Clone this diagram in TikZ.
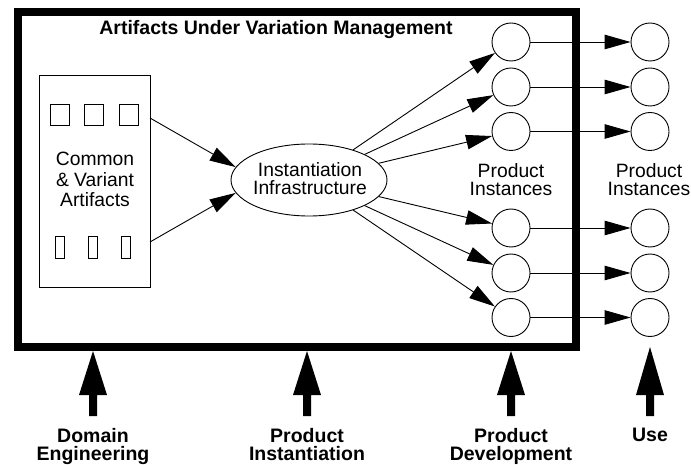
\documentclass[tikz,border=0pt]{standalone}
\usepackage{fontspec}
\setmainfont{Liberation Sans}
\usetikzlibrary{arrows.meta,shapes.geometric}
\begin{document}
\begin{tikzpicture}[x=1pt,y=-1pt,
  thin line/.style={line width=0.9pt},
  conn/.style={thin line,-{Triangle[length=26pt,width=14.5pt]}},
  inst/.style={circle,draw,thin line,minimum size=38pt,inner sep=0pt},
  body/.style={font=\fontsize{19.3}{18}\selectfont,align=center,inner sep=0pt,anchor=north},
  phase/.style={font=\fontsize{19.5}{18}\selectfont\bfseries,align=center,inner sep=0pt,anchor=north},
  art/.style={draw,thin line,inner sep=0pt},
  block/.style={fill=black}
]
\useasboundingbox (0,0) rectangle (691,465);
\fill[white] (0,0) rectangle (691,465);

% outer frame
\draw[line width=8pt] (18,12) rectangle (575.5,346.5);
\node[font=\fontsize{19.5}{20}\selectfont\bfseries,anchor=base,inner sep=0pt] (title) at (276,35) {Artifacts Under Variation Management};

% artifacts box
\node[art,minimum width=111pt,minimum height=212pt] (artbox) at (94.5,181) {};
\node[body,font=\fontsize{19.3}{20.5}\selectfont] (arttext) at (95,152) {Common\\\& Variant\\Artifacts};
\foreach \x [count=\i] in {59.5,93.5,128.5}{
  \node[art,minimum width=19pt,minimum height=21pt] (sq\i) at (\x,114.5) {};
}
\foreach \x [count=\i] in {59.5,93,125.5}{
  \node[art,minimum width=9pt,minimum height=22pt] (tall\i) at (\x,247) {};
}
\coordinate (outA) at (150,118);
\coordinate (outB) at (150,242);

% instantiation infrastructure
\node[ellipse,draw,thin line,minimum width=156pt,minimum height=72pt,inner sep=0pt] (ell) at (309,180) {};
\node[body] (elltext) at (310,162) {Instantiation\\Infrastructure};

\draw[conn] (outA) -- (ell.170);
\draw[conn] (outB) -- (ell.190);

% product instances
\foreach \y [count=\i] in {42,87,131.5,228,273,317.5}{
  \node[inst] (a\i) at (511,\y) {};
  \node[inst] (b\i) at (650,\y) {};
}
\node[body] (pi1) at (511,163) {Product\\Instances};
\node[body] (pi2) at (649,163) {Product\\Instances};

\foreach \i in {1,...,6}{
  \draw[conn] (ell) -- (a\i);
  \draw[conn] (a\i) -- (b\i);
}

% phase arrows
\foreach \x/\t in {93/351,307/351,511/351,650/347}{
  \fill[block] (\x,\t) -- (\x+14,395) -- (\x+4,395) -- (\x+4,416) -- (\x-4,416) -- (\x-4,395) -- (\x-14,395) -- cycle;
}
\node[phase] (p1) at (93,428) {Domain\\Engineering};
\node[phase] (p2) at (307,428) {Product\\Instantiation};
\node[phase] (p3) at (511,428) {Product\\Development};
\node[phase] (p4) at (650,428) {Use};
\end{tikzpicture}
\end{document}
